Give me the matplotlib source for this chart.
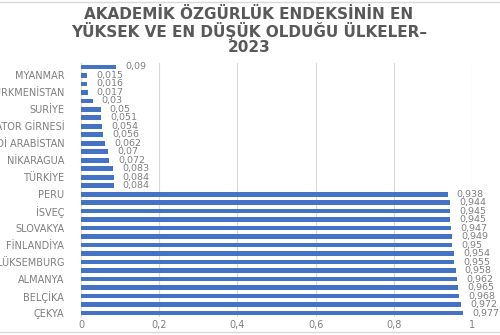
import matplotlib
matplotlib.use("Agg")
import matplotlib.pyplot as plt
from matplotlib.lines import Line2D
import numpy as np

# kategoriler alttan üste (Excel sırası)
ulkeler = ["ÇEKYA", "ESTONYA", "BELÇİKA", "İTALYA", "ALMANYA", "LETONYA",
           "LÜKSEMBURG", "PORTEKİZ", "FİNLANDİYA", "ŞİLİ", "SLOVAKYA", "URUGUAY",
           "İSVEÇ", "KOSTA RİKA", "PERU",
           "KÜBA", "TÜRKİYE", "ÇİN", "NİKARAGUA", "BELARUS", "SUUDİ ARABİSTAN",
           "BAHREYN", "EKVATOR GİRNESİ", "İRAN", "SURİYE", "ERİTRE",
           "TÜRKMENİSTAN", "KUZEY KORE", "MYANMAR", "AFGANİSTAN"]
degerler = [0.977, 0.972, 0.968, 0.965, 0.962, 0.958,
            0.955, 0.954, 0.95, 0.949, 0.947, 0.945,
            0.945, 0.944, 0.938,
            0.084, 0.084, 0.083, 0.072, 0.07, 0.062,
            0.056, 0.054, 0.051, 0.05, 0.03,
            0.017, 0.016, 0.015, 0.09]
baslik_satirlari = ["AKADEMİK ÖZGÜRLÜK ENDEKSİNİN EN",
                    "YÜKSEK VE EN DÜŞÜK OLDUĞU ÜLKELER–",
                    "2023"]
x_ticks = [0, 0.2, 0.4, 0.6, 0.8, 1.0]
x_tick_labels = ["0", "0,2", "0,4", "0,6", "0,8", "1"]

bar_renk = "#4472C4"
yazi_renk = "#7F7F7F"

fig = plt.figure(figsize=(5, 3.35), dpi=100)
ax = fig.add_axes([0.162, 0.053, 0.782, 0.76])

y = np.arange(len(ulkeler))
ax.barh(y, degerler, height=0.55, color=bar_renk, zorder=3)

for yi, v in zip(y, degerler):
    ax.annotate(str(v).replace(".", ","), (v, yi), xytext=(6.5, 0),
                textcoords="offset points", va="center", ha="left",
                fontsize=6.8, color=yazi_renk, annotation_clip=False)

ax.set_ylim(-0.5, len(ulkeler) - 0.5)
ax.set_xlim(0, 1)
ax.set_yticks(y[::2])
ax.set_yticklabels(ulkeler[::2], fontsize=7, color=yazi_renk)
ax.set_xticks(x_ticks)
ax.set_xticklabels(x_tick_labels, fontsize=7, color=yazi_renk)
ax.tick_params(axis="y", length=0, pad=12)
ax.tick_params(axis="x", length=0, pad=2)

ax.grid(axis="x", color="#D9D9D9", linewidth=0.8, zorder=0)
for s in ["top", "right", "bottom"]:
    ax.spines[s].set_visible(False)
ax.spines["left"].set_color("#D9D9D9")

# başlık satırları
for yy, satir in zip([0.957, 0.907, 0.858], baslik_satirlari):
    fig.text(0.498, yy, satir, ha="center", va="center", fontsize=11,
             fontweight="bold", color="#595959")

# grafik çerçevesi (üst/alt ince gri çizgi)
fig.add_artist(Line2D([0, 1], [0.994, 0.994], color="#D9D9D9", lw=1))
fig.add_artist(Line2D([0, 1], [0.009, 0.009], color="#D9D9D9", lw=1))

fig.savefig("out.png", dpi=100)
